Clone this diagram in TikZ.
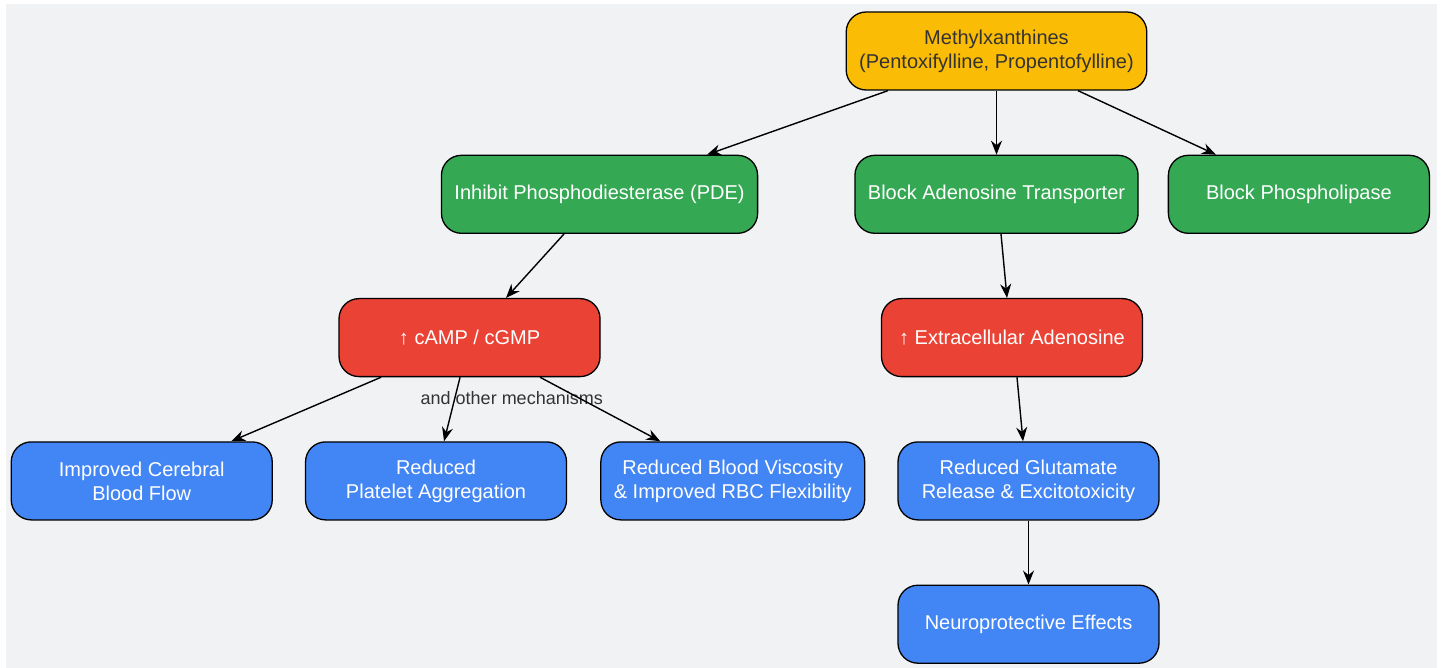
\documentclass[tikz,border=0pt]{standalone}
\usepackage{fontspec}
\setmainfont{Liberation Sans}
\usetikzlibrary{positioning,arrows.meta}

\definecolor{bggray}{HTML}{F1F2F4}
\definecolor{gyellow}{HTML}{FBBC05}
\definecolor{ggreen}{HTML}{34A853}
\definecolor{gred}{HTML}{EA4335}
\definecolor{gblue}{HTML}{4285F4}
\definecolor{darktext}{HTML}{333333}

\begin{document}
\begin{tikzpicture}[x=1pt,y=-1pt,node distance=64pt and 32pt,
		box/.style={draw=black, line width=1.3pt, rounded corners=20pt, minimum width=261pt, minimum height=78pt, inner xsep=13pt, align=center, text=white, font=\fontsize{20}{24}\selectfont},
		drug/.style={box, fill=gyellow, text=darktext},
		action/.style={box, fill=ggreen},
		messenger/.style={box, fill=gred},
		effect/.style={box, fill=gblue},
		link/.style={->, line width=1.4pt, >={Stealth[length=14pt,width=11pt]}}]
		\useasboundingbox (0,0) rectangle (1443,668);
		\fill[bggray] (6,4) rectangle (1437,668);

		\node[drug] (meth) at (996.5,51) {Methylxanthines\\(Pentoxifylline, Propentofylline)};

		\node[action, below=of {meth}] (abt) {Block Adenosine Transporter};
		\node[action, left=96pt of {abt}] (pde) {Inhibit Phosphodiesterase (PDE)};
		\node[action, right=29pt of {abt}] (phos) {Block Phospholipase};

		\node[messenger, below=of {pde}, xshift=-130pt] (camp) {↑ cAMP / cGMP};
		\node[messenger, below=of {abt}, xshift=15.5pt] (ado) {↑ Extracellular Adenosine};

		\node[effect, below=of {camp}, xshift=-33.5pt] (platelet) {Reduced\\Platelet Aggregation};
		\node[effect, left=of {platelet}] (flow) {Improved Cerebral\\Blood Flow};
		\node[effect, right=33pt of {platelet}] (visc) {Reduced Blood Viscosity\\\& Improved RBC Flexibility};
		\node[effect, below=of {ado}, xshift=16.5pt] (glut) {Reduced Glutamate\\Release \& Excitotoxicity};
		\node[effect, below=of {glut}] (neuro) {Neuroprotective Effects};

		\draw[link] ([xshift=-108.5pt]meth.south) -- ([xshift=107.5pt]pde.north);
		\draw[link] (meth) -- (abt);
		\draw[link] ([xshift=81.5pt]meth.south) -- ([xshift=-83pt]phos.north);

		\draw[link] ([xshift=-35.5pt]pde.south) -- ([xshift=36.5pt]camp.north);
		\draw[link] ([xshift=4.5pt]abt.south) -- ([xshift=-5pt]ado.north);

		\draw[link] ([xshift=-88.5pt]camp.south) -- ([xshift=89.5pt]flow.north);
		\draw[link] ([xshift=-9.5pt]camp.south) -- node[pos=0.33, xshift=57pt, text=darktext, font=\fontsize{18}{21}\selectfont] {and other mechanisms} ([xshift=8pt]platelet.north);
		\draw[link] ([xshift=70.5pt]camp.south) -- ([xshift=-72.5pt]visc.north);

		\draw[link] ([xshift=5pt]ado.south) -- ([xshift=-5.5pt]glut.north);
		\draw[link] (glut) -- (neuro);
	\end{tikzpicture}
\end{document}
